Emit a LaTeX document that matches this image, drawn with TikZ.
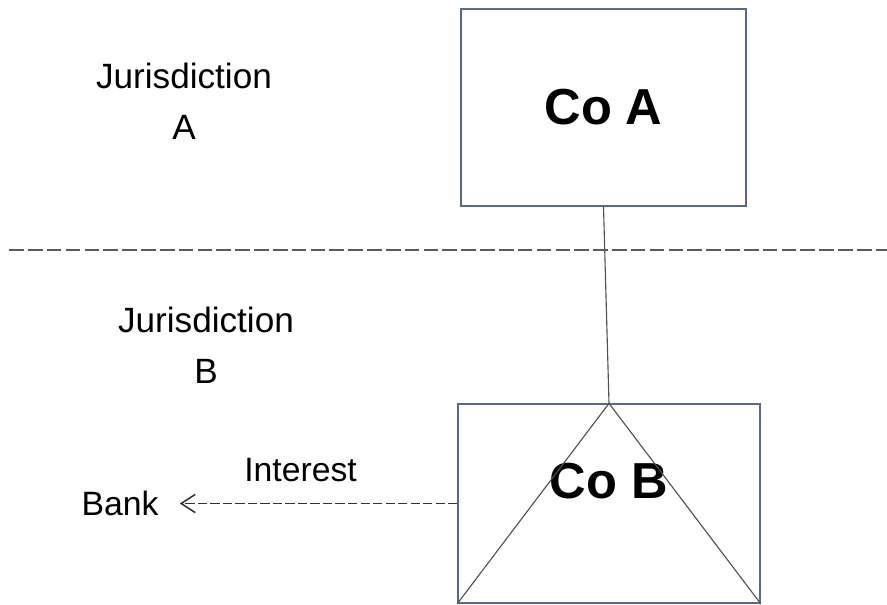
\documentclass[tikz,border=0pt]{standalone}
\usepackage{fontspec}
\setmainfont{Liberation Sans}
\usetikzlibrary{arrows.meta,positioning}
\definecolor{boxline}{HTML}{5A6A85}
\definecolor{link}{HTML}{505050}
\definecolor{divide}{HTML}{5A5A5A}

\begin{document}
\begin{tikzpicture}[
    company/.style={draw=boxline,line width=0.9pt,rectangle},
    coname/.style={inner sep=0pt,font=\fontsize{36}{40}\selectfont\bfseries},
    place/.style={align=center,inner sep=0pt,font=\fontsize{25}{36}\selectfont},
    tag/.style={inner sep=0pt,text=black,font=\fontsize{24}{28}\selectfont}]
  \useasboundingbox (0,0) rectangle (22.175,15.1);
  % companies either side of the border
  \node[company,minimum width=7.125cm,minimum height=4.925cm] (coA) at (15.0875,12.4125) {};
  \node[coname] (coAname) at (coA.center) {Co A};
  \node[company,minimum width=7.55cm,minimum height=4.975cm] (coB) at (15.225,2.5125) {};
  \node[coname] (coBname) at ([yshift=16pt]coB.center) {Co B};
  \draw[link,line width=0.8pt] (coA.south) -- (coB.north);
  \draw[link,line width=0.8pt] (coB.south west) -- (coB.north) -- (coB.south east);
  % jurisdiction line
  \coordinate (divl) at (0.23,8.85);
  \coordinate (divr) at (22.175,8.85);
  \draw[divide,line width=2.1pt,dash pattern=on 10.4pt off 3pt] (divl) -- (divr);
  \node[place] (jurA) at (4.6,12.575) {Jurisdiction\\A};
  \node[place] (jurB) at (5.15,6.475) {Jurisdiction\\B};
  % interest paid out
  \node[tag] (bank) at (3.0,2.5125) {Bank};
  \draw[black!80,line width=1.1pt,dash pattern=on 6.6pt off 2.3pt,
        -{Straight Barb[length=10pt,width=13pt]},shorten >=15pt]
    (coB.west) -- (bank) node[tag,pos=0.525,above=15pt] (interest) {Interest};
\end{tikzpicture}
\end{document}
